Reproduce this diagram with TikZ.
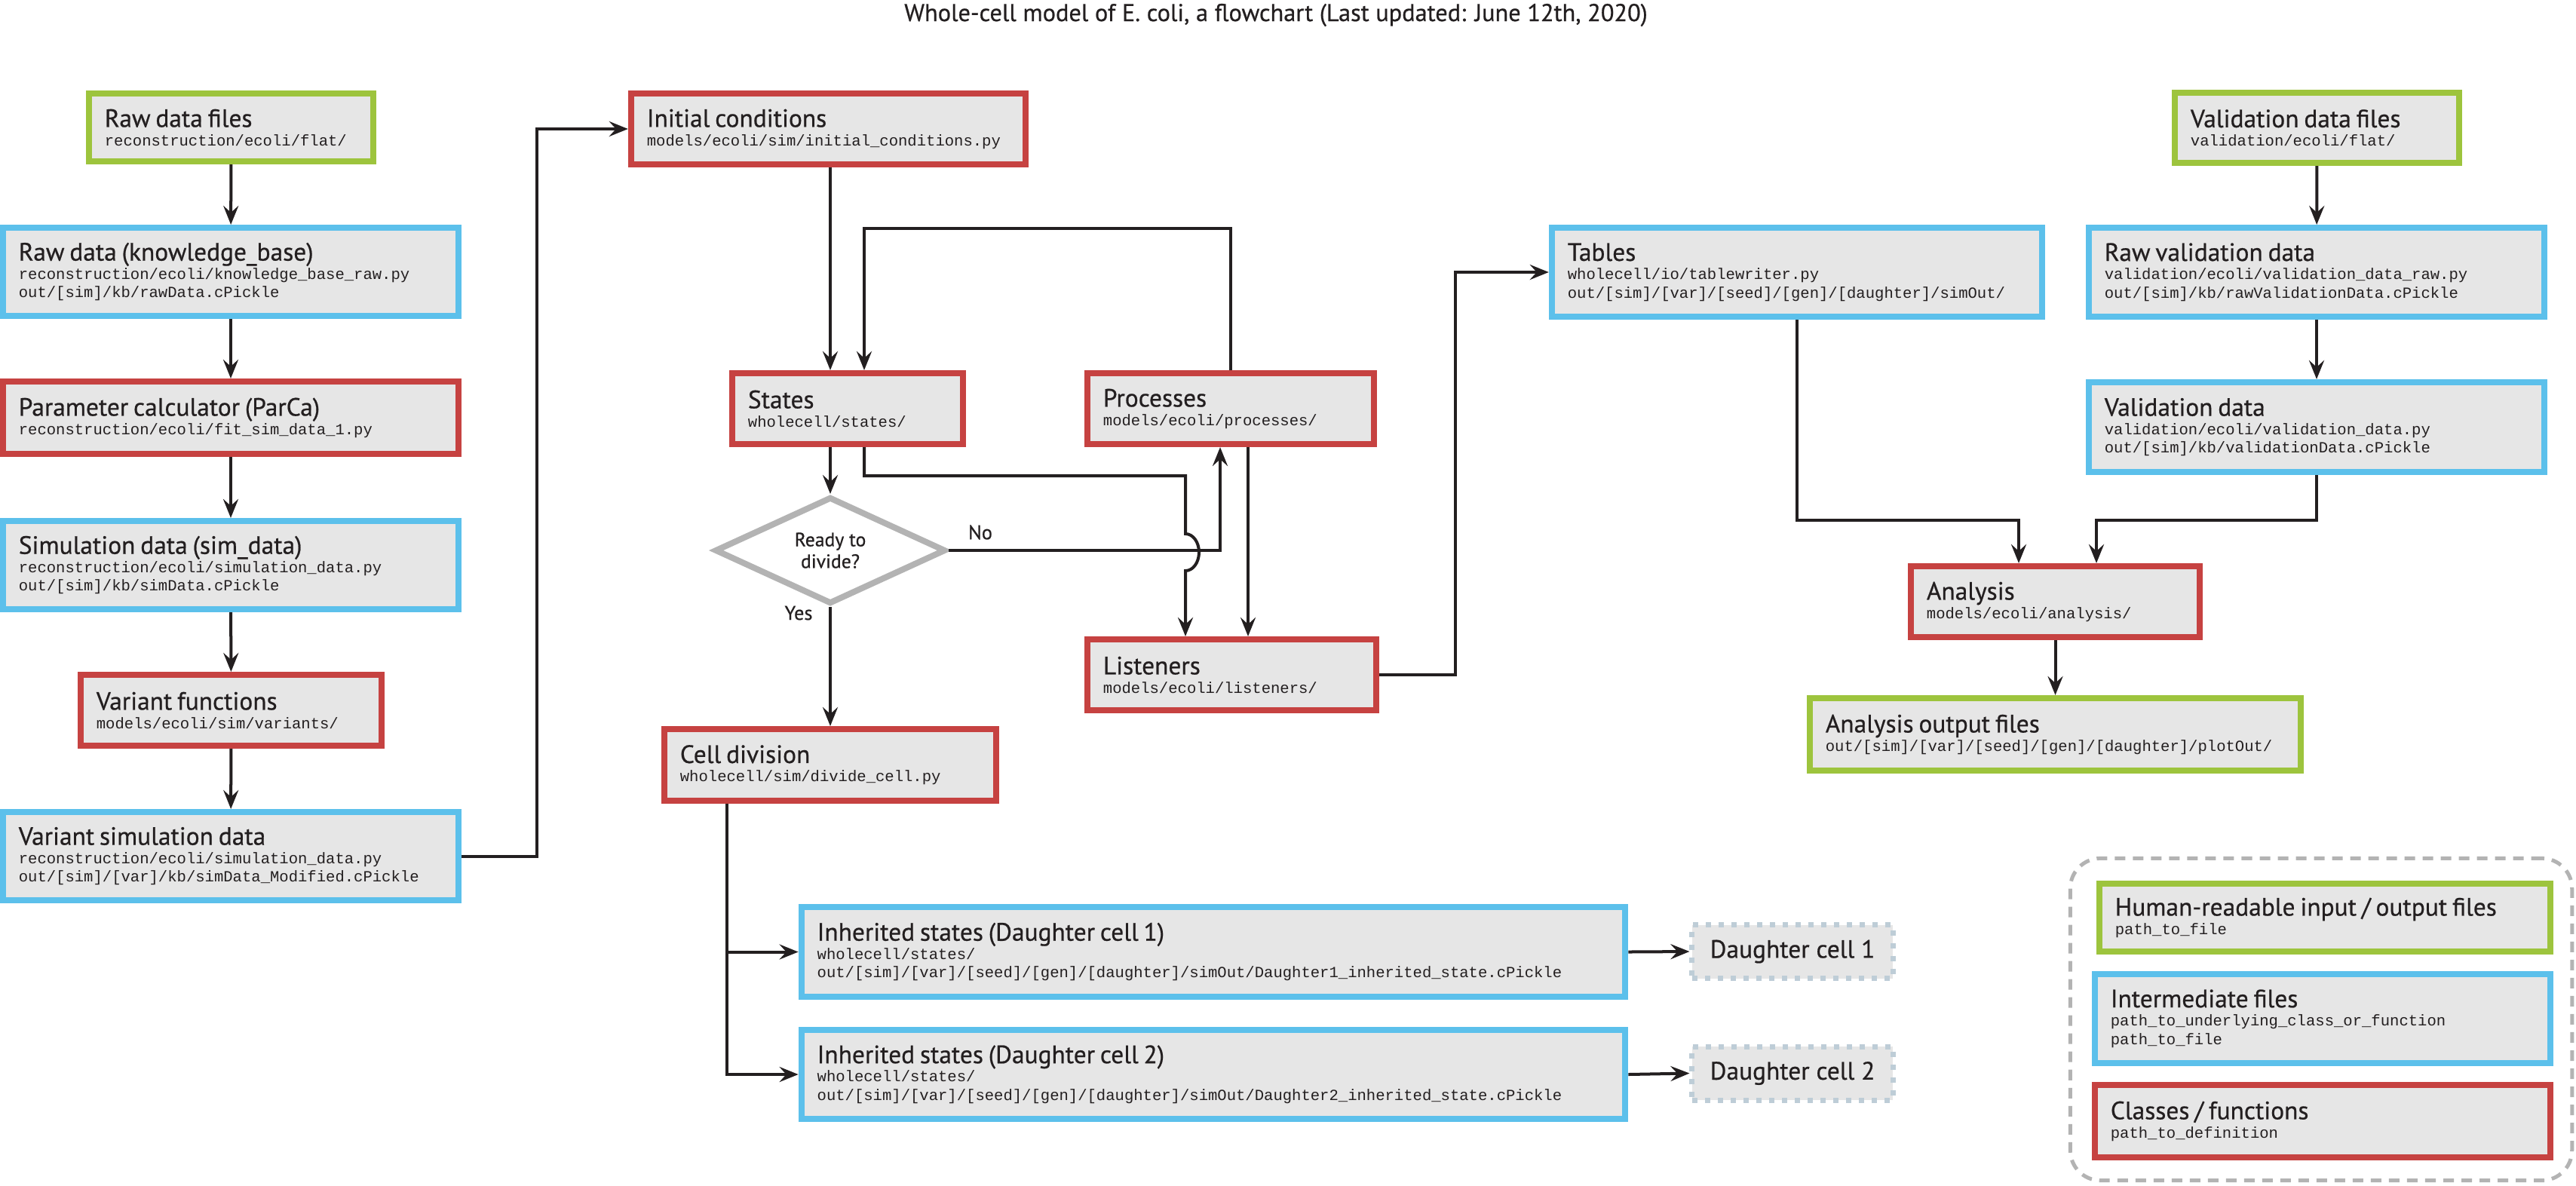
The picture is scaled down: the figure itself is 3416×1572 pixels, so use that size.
\documentclass[tikz,border=0pt]{standalone}
\usepackage{fontspec}
\setmainfont{PT Sans}
\setmonofont{Liberation Mono}
\newfontfamily\heavyfont{PT Sans}[FakeBold=0.6]
\usetikzlibrary{arrows.meta,shapes.geometric,calc}
\definecolor{cgreen}{RGB}{157,196,61}
\definecolor{cblue}{RGB}{92,192,235}
\definecolor{cred}{RGB}{198,66,65}
\definecolor{cfill}{RGB}{230,230,230}
\definecolor{cink}{RGB}{35,31,32}
\definecolor{cgray}{RGB}{179,179,179}
\definecolor{cdash}{RGB}{190,205,215}
\newcommand\bxtitle{\fontsize{9.5}{7}\selectfont\heavyfont}
\newcommand\bxmono{\fontsize{5.85}{7}\selectfont\ttfamily}
\newcommand\mkbox[8]{%
  \pgfmathsetmacro\bxw{(#5-#3-8)*0.1}%
  \pgfmathsetmacro\bxh{(#6-#4-8)*0.1}%
  \pgfmathsetmacro\bxt{(#5-#3-8-42)*0.1}%
  \node[boxbase, draw=#2, minimum width=\bxw mm, minimum height=\bxh mm, text width=\bxt mm]
    (#1) at ({(#3+#5)/2},{(#4+#6)/2}) {{\bxtitle #7}\\#8};%
}
\begin{document}
\begin{tikzpicture}[x=0.01cm,y=-0.01cm,
  boxbase/.style={rectangle, fill=cfill, line width=0.8mm, inner xsep=2.1mm, inner ysep=0pt,
    align=left, font=\bxmono, text=cink},
  arr/.style={draw=cink, line width=0.4mm, -{Stealth[length=2.5mm,width=2mm,inset=0.9mm]}},
  dcbox/.style={rectangle, fill=cfill, draw=cdash, line width=0.7mm, dash pattern=on 0.7mm off 1mm,
    minimum width=26.6mm, minimum height=7.1mm, inner sep=0pt,
    font=\fontsize{9.5}{10}\selectfont\heavyfont, text=cink},
  lbl/.style={font=\fontsize{7.5}{8.2}\selectfont\heavyfont, text=cink, inner sep=0pt}
]
\useasboundingbox (0,0) rectangle (3416,1572);

\node[anchor=base, font=\fontsize{9.2}{10}\selectfont\heavyfont, text=cink] (title) at (1692,28)
  {Whole-cell model of E. coli, a flowchart (Last updated: June 12th, 2020)};

% left column
\mkbox{rawfiles}{cgreen}{114}{120}{499}{218}{Raw data files}{reconstruction/ecoli/flat/}
\mkbox{rawdata}{cblue}{0}{298}{612}{423}{Raw data (knowledge\_base)}{reconstruction/ecoli/knowledge\_base\_raw.py\\out/[sim]/kb/rawData.cPickle}
\mkbox{parca}{cred}{0}{502}{612}{606}{Parameter calculator (ParCa)}{reconstruction/ecoli/fit\_sim\_data\_1.py}
\mkbox{simdata}{cblue}{0}{687}{612}{812}{Simulation data (sim\_data)}{reconstruction/ecoli/simulation\_data.py\\out/[sim]/kb/simData.cPickle}
\mkbox{varfun}{cred}{103}{891}{510}{993}{Variant functions}{models/ecoli/sim/variants/}
\mkbox{varsim}{cblue}{0}{1073}{612}{1198}{Variant simulation data}{reconstruction/ecoli/simulation\_data.py\\out/[sim]/[var]/kb/simData\_Modified.cPickle}

% middle
\mkbox{initcond}{cred}{833}{120}{1364}{222}{Initial conditions}{models/ecoli/sim/initial\_conditions.py}
\mkbox{states}{cred}{967}{491}{1281}{593}{States}{wholecell/states/}
\mkbox{processes}{cred}{1438}{491}{1826}{593}{Processes}{models/ecoli/processes/}
\mkbox{listeners}{cred}{1438}{844}{1829}{946}{Listeners}{models/ecoli/listeners/}
\mkbox{celldiv}{cred}{877}{963}{1325}{1066}{Cell division}{wholecell/sim/divide\_cell.py}
\mkbox{inh1}{cblue}{1059}{1199}{2159}{1326}{Inherited states (Daughter cell 1)}{wholecell/states/\\out/[sim]/[var]/[seed]/[gen]/[daughter]/simOut/Daughter1\_inherited\_state.cPickle}
\mkbox{inh2}{cblue}{1059}{1362}{2159}{1488}{Inherited states (Daughter cell 2)}{wholecell/states/\\out/[sim]/[var]/[seed]/[gen]/[daughter]/simOut/Daughter2\_inherited\_state.cPickle}
\node[dcbox] (dc1) at (2377,1262) {Daughter cell 1};
\node[dcbox] (dc2) at (2377,1423.5) {Daughter cell 2};

\node[diamond, draw=cgray, fill=white, line width=0.8mm, minimum width=30.6mm, minimum height=10.2mm,
  inner sep=0pt, align=center, font=\fontsize{7.3}{8.2}\selectfont\heavyfont, text=cink] (ready) at (1101,730) {Ready to\\divide?};

% right
\mkbox{tables}{cblue}{2054}{298}{2712}{424}{Tables}{wholecell/io/tablewriter.py\\out/[sim]/[var]/[seed]/[gen]/[daughter]/simOut/}
\mkbox{valfiles}{cgreen}{2880}{119}{3265}{220}{Validation data files}{validation/ecoli/flat/}
\mkbox{rawval}{cblue}{2766}{298}{3378}{424}{Raw validation data}{validation/ecoli/validation\_data\_raw.py\\out/[sim]/kb/rawValidationData.cPickle}
\mkbox{valdata}{cblue}{2766}{503}{3378}{630}{Validation data}{validation/ecoli/validation\_data.py\\out/[sim]/kb/validationData.cPickle}
\mkbox{analysis}{cred}{2530}{747}{2921}{849}{Analysis}{models/ecoli/analysis/}
\mkbox{anaout}{cgreen}{2396}{922}{3055}{1026}{Analysis output files}{out/[sim]/[var]/[seed]/[gen]/[daughter]/plotOut/}

% legend
\node[draw=cgray, line width=0.5mm, dash pattern=on 1.4mm off 1mm, rounded corners=4mm,
  minimum width=66.5mm, minimum height=42.7mm, inner sep=0pt] (legend) at (3078,1352) {};
\mkbox{lg1}{cgreen}{2780}{1168}{3386}{1266}{Human-readable input / output files}{path\_to\_file}
\mkbox{lg2}{cblue}{2774}{1288}{3386}{1414}{Intermediate files}{path\_to\_underlying\_class\_or\_function\\path\_to\_file}
\mkbox{lg3}{cred}{2774}{1435}{3386}{1539}{Classes / functions}{path\_to\_definition}

% helper coordinates
\coordinate (cv) at (712,0);
\coordinate (loop) at (1146,303);
\coordinate (sx) at (1146,0);
\coordinate (jx) at (1572,631);
\coordinate (nx) at (1618,0);
\coordinate (px) at (1655,0);
\coordinate (cdx) at (964,0);
\coordinate (lx) at (1930,0);
\coordinate (a1) at (2677,690);
\coordinate (a2) at (2780,690);

% left column arrows
\draw[arr] (rawfiles) -- (rawdata);
\draw[arr] (rawdata) -- (parca);
\draw[arr] (parca) -- (simdata);
\draw[arr] (simdata) -- (varfun);
\draw[arr] (varfun) -- (varsim);
\draw[arr] (varsim.east) -- (varsim.east -| cv) |- (initcond.west);

% middle arrows
\draw[arr] (initcond.south -| ready.north) -- (ready.north |- states.north);
\draw[arr] (processes.north) |- (loop) -- (loop |- states.north);
\draw[arr] (ready.north |- states.south) -- (ready.north);
\draw[arr] (sx |- states.south) |- (jx) -- (1572,708)
  arc[start angle=-90, end angle=90, x radius=18, y radius=24.5] -- (jx |- listeners.north);
\draw[arr] (ready.east) -| (nx |- processes.south);
\draw[arr] (px |- processes.south) -- (px |- listeners.north);
\draw[arr] (ready.south) -- (celldiv.north);
\node[lbl] (no) at (1300,706) {No};
\node[lbl] (yes) at (1059,813) {Yes};
\draw[arr] (cdx |- celldiv.south) |- (inh1.west);
\draw[arr] (cdx |- celldiv.south) |- (inh2.west);
\draw[arr] (inh1.east) -- (dc1.west);
\draw[arr] (inh2.east) -- (dc2.west);
\draw[arr] (listeners.east) -- (listeners.east -| lx) |- (tables.west);

% right arrows
\draw[arr] (valfiles) -- (rawval);
\draw[arr] (rawval) -- (valdata);
\draw[arr] (tables.south) |- (a1) -- (a1 |- analysis.north);
\draw[arr] (valdata.south) |- (a2) -- (a2 |- analysis.north);
\draw[arr] (analysis) -- (anaout);
\end{tikzpicture}
\end{document}
